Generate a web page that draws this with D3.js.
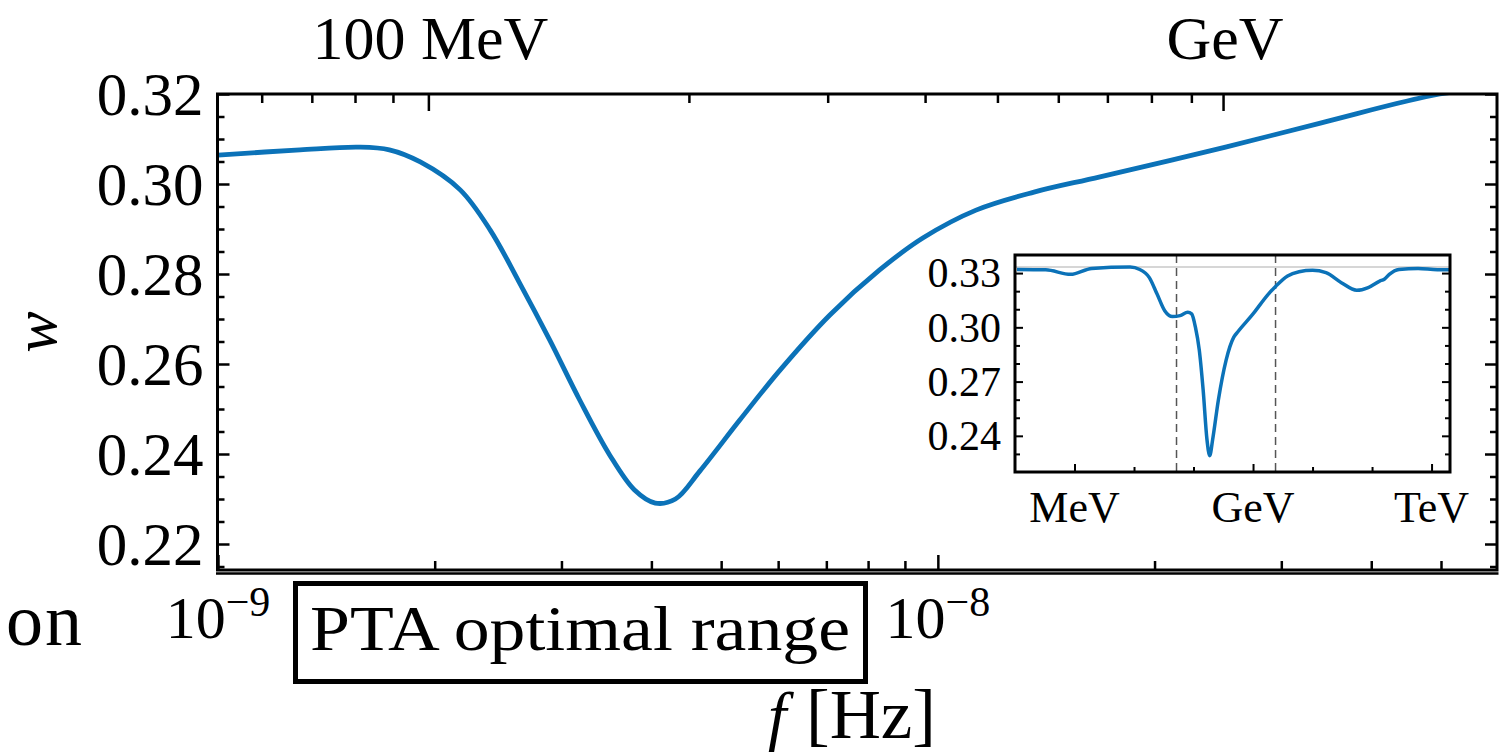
<!DOCTYPE html>
<html>
<head>
<meta charset="utf-8">
<script src="https://cdn.jsdelivr.net/npm/d3@7"></script>
<style>
  html, body { margin: 0; padding: 0; background: #fff; }
  svg { display: block; }
  text { font-family: "Liberation Serif", "DejaVu Serif", serif; fill: #000; }
</style>
</head>
<body>
<svg id="chart" width="1501" height="753"></svg>
<script>
// ---------------- DATA ----------------
// Main panel: equation of state w vs GW frequency f [Hz]
const mainF = [1.00e-9, 1.30e-9, 1.57e-9, 1.73e-9, 1.91e-9, 2.17e-9, 2.39e-9, 2.62e-9, 2.89e-9,
  3.18e-9, 3.50e-9, 3.79e-9, 4.05e-9, 4.32e-9, 4.67e-9, 5.31e-9, 6.04e-9, 7.08e-9, 8.30e-9,
  9.53e-9, 1.13e-8, 1.36e-8, 1.68e-8, 2.51e-8, 3.41e-8, 4.98e-8, 5.97e-8];
const mainW = [0.3064, 0.3076, 0.3082, 0.3076, 0.3049, 0.2987, 0.2897, 0.2782, 0.2653,
  0.2520, 0.2398, 0.2320, 0.2291, 0.2300, 0.2362, 0.2476, 0.2587, 0.2709, 0.2809,
  0.2880, 0.2942, 0.2982, 0.3016, 0.3082, 0.3136, 0.3200, 0.3214];

// Main axes ticks
const yMajorTicks = [0.22, 0.24, 0.26, 0.28, 0.30, 0.32];
const yMinorTicks = [0.215, 0.225, 0.23, 0.235, 0.245, 0.25, 0.255, 0.265, 0.27, 0.275,
  0.285, 0.29, 0.295, 0.305, 0.31, 0.315];
const xMajorTicks = [1e-9, 1e-8];
const xMajorLabels = [{ base: "10", exp: "\u22129" }, { base: "10", exp: "\u22128" }];
const xMinorTicks = [2e-9, 3e-9, 4e-9, 5e-9, 6e-9, 7e-9, 8e-9, 9e-9, 2e-8, 3e-8, 4e-8, 5e-8];
// Top axis: temperature ticks placed at the corresponding frequency
const topMajorF = [1.96e-9, 2.49e-8];
const topMajorLabels = ["100 MeV", "GeV"];
const topMinorF = [1.15e-9, 1.35e-9, 1.55e-9, 1.75e-9, 4.51e-9, 7.03e-9, 9.60e-9,
  1.21e-8, 1.47e-8, 1.72e-8, 1.98e-8, 2.25e-8];

// Inset: w vs temperature T [GeV]
const insetT = [1.08e-4, 3.28e-4, 8.61e-4, 1.95e-3, 8.61e-3, 1.25e-2, 1.81e-2, 2.44e-2, 3.28e-2,
  4.42e-2, 5.94e-2, 8.00e-2, 9.29e-2, 0.1076, 0.125, 0.145, 0.168, 0.187, 0.210, 0.262,
  0.353, 0.475, 0.552, 1.0, 1.81, 2.44, 3.81, 5.94, 10, 16.8, 30.5, 55.2, 86.1, 134.6,
  160.7, 195, 283, 594, 1250, 2010];
const insetW = [0.3320, 0.3318, 0.3293, 0.3326, 0.3333, 0.3320, 0.3275, 0.3184, 0.3092,
  0.3060, 0.3065, 0.3083, 0.3074, 0.3001, 0.2874, 0.2655, 0.2381, 0.2290, 0.2381, 0.2600,
  0.2819, 0.2946, 0.2974, 0.3074, 0.3184, 0.3229, 0.3284, 0.3307, 0.3315, 0.3302,
  0.3247, 0.3205, 0.3220, 0.3256, 0.3266, 0.3293, 0.3320, 0.3326, 0.3318, 0.3318];
const insetYMajor = [0.24, 0.27, 0.30, 0.33];
const insetYMinor = [0.23, 0.25, 0.26, 0.28, 0.29, 0.31, 0.32];
const insetXMajor = [1e-3, 1, 1e3];
const insetXLabels = ["MeV", "GeV", "TeV"];
const insetXMinor = [1e-2, 1e-1, 10, 100];
const insetRef = [1 / 3];            // radiation value
const insetDashed = [0.0518, 2.39];  // main-panel range in T [GeV]

// ---------------- DRAW ----------------
const svg = d3.select("#chart");
const blue = "#0b72b8";

const L = 217.5, R = 1497, T = 94, B = 570;
const x = d3.scaleLog().domain([1e-9, 6e-8]).range([218, 1498]);
const y = d3.scaleLinear().domain([0.214, 0.32]).range([571, 94]);

svg.append("defs").append("clipPath").attr("id", "mainClip")
  .append("rect").attr("x", L).attr("y", T).attr("width", R - L).attr("height", B - T);

// curve
const line = d3.line().x(d => x(d[0])).y(d => y(d[1])).curve(d3.curveCatmullRom.alpha(0.5));
svg.append("path")
  .datum(mainF.map((f, i) => [f, mainW[i]]))
  .attr("clip-path", "url(#mainClip)")
  .attr("d", line).attr("fill", "none").attr("stroke", blue).attr("stroke-width", 4.8);

// frame
svg.append("rect").attr("x", L).attr("y", T).attr("width", R - L).attr("height", B - T)
  .attr("fill", "none").attr("stroke", "#000").attr("stroke-width", 3);
svg.append("line").attr("x1", L - 1.5).attr("x2", R + 1.5).attr("y1", 573.5).attr("y2", 573.5)
  .attr("stroke", "#000").attr("stroke-width", 2.5);

function styleAxis(g) {
  g.select(".domain").remove();
  g.selectAll(".tick line").attr("stroke", "#000").attr("stroke-width", 2.5);
}

// left axis
svg.append("g").attr("transform", `translate(${L},0)`)
  .call(d3.axisLeft(y).tickValues(yMajorTicks).tickSize(-12).tickPadding(14).tickFormat(d3.format(".2f")))
  .call(styleAxis)
  .call(g => g.selectAll("text").attr("font-size", 61).attr("font-family", "Liberation Serif").attr("dy", "0.33em"));
svg.append("g").attr("transform", `translate(${L},0)`)
  .call(d3.axisLeft(y).tickValues(yMinorTicks).tickSize(-7).tickFormat(""))
  .call(styleAxis);
// right axis ticks
svg.append("g").attr("transform", `translate(${R},0)`)
  .call(d3.axisRight(y).tickValues(yMajorTicks).tickSize(-12).tickFormat(""))
  .call(styleAxis);
svg.append("g").attr("transform", `translate(${R},0)`)
  .call(d3.axisRight(y).tickValues(yMinorTicks).tickSize(-7).tickFormat(""))
  .call(styleAxis);

// bottom axis
svg.append("g").attr("transform", `translate(0,${B})`)
  .call(d3.axisBottom(x).tickValues(xMajorTicks).tickSize(-15).tickFormat(""))
  .call(styleAxis);
svg.append("g").attr("transform", `translate(0,${B})`)
  .call(d3.axisBottom(x).tickValues(xMinorTicks).tickSize(-9).tickFormat(""))
  .call(styleAxis);
xMajorTicks.forEach((v, i) => {
  const t = svg.append("text").attr("x", x(v)).attr("y", 638)
    .attr("text-anchor", "middle").attr("font-size", 60);
  t.append("tspan").text(xMajorLabels[i].base);
  t.append("tspan").attr("font-size", 42).attr("dy", -22).text(xMajorLabels[i].exp);
});

// top axis (temperature)
svg.append("g").attr("transform", `translate(0,${T})`)
  .call(d3.axisTop(x).tickValues(topMajorF).tickSize(-17).tickFormat(""))
  .call(styleAxis);
svg.append("g").attr("transform", `translate(0,${T})`)
  .call(d3.axisTop(x).tickValues(topMinorF).tickSize(-9).tickFormat(""))
  .call(styleAxis);
topMajorF.forEach((v, i) => {
  svg.append("text").attr("x", x(v) + 2).attr("y", 59).attr("text-anchor", "middle")
    .attr("font-size", 62).text(topMajorLabels[i]);
});

// axis titles
svg.append("text").attr("transform", "translate(56,332) rotate(-90)")
  .attr("text-anchor", "middle").attr("font-size", 62).attr("font-style", "italic").text("w");
svg.append("text").attr("x", 768).attr("y", 738).attr("font-size", 66)
  .attr("font-style", "italic").text("f");
svg.append("text").attr("x", 806).attr("y", 738).attr("font-size", 70)
  .attr("textLength", 130).attr("lengthAdjust", "spacingAndGlyphs").text("[Hz]");

// text fragment from neighbouring panel
svg.append("text").attr("x", 6).attr("y", 645)
  .attr("font-size", 74).attr("letter-spacing", 2).text("on");

// PTA box
svg.append("rect").attr("x", 295.5).attr("y", 583.5).attr("width", 570).attr("height", 98)
  .attr("fill", "none").attr("stroke", "#000").attr("stroke-width", 5);
svg.append("text").attr("x", 580).attr("y", 650).attr("text-anchor", "middle")
  .attr("font-size", 64).attr("textLength", 540).attr("lengthAdjust", "spacingAndGlyphs")
  .text("PTA optimal range");

// ---------------- INSET ----------------
const iL = 1015, iR = 1450, iT = 255, iB = 472;
const ix = d3.scaleLog().domain([1e-4, Math.pow(10, 3.31)]).range([iL, iR]);
const iy = d3.scaleLinear().domain([0.22, 0.34]).range([iB, iT]);
const ig = svg.append("g");
ig.append("rect").attr("x", iL).attr("y", iT).attr("width", iR - iL).attr("height", iB - iT)
  .attr("fill", "#fff");
ig.append("defs").append("clipPath").attr("id", "insetClip")
  .append("rect").attr("x", iL).attr("y", iT).attr("width", iR - iL).attr("height", iB - iT);
insetRef.forEach(v => {
  ig.append("line").attr("x1", iL).attr("x2", iR).attr("y1", iy(v)).attr("y2", iy(v))
    .attr("stroke", "#c8c8c8").attr("stroke-width", 1.5);
});
insetDashed.forEach(v => {
  ig.append("line").attr("x1", ix(v)).attr("x2", ix(v)).attr("y1", iT).attr("y2", iB)
    .attr("stroke", "#555").attr("stroke-width", 1.5).attr("stroke-dasharray", "8,5");
});
const iline = d3.line().x(d => ix(d[0])).y(d => iy(d[1])).curve(d3.curveMonotoneX);
ig.append("path").datum(insetT.map((t, i) => [t, insetW[i]]))
  .attr("clip-path", "url(#insetClip)")
  .attr("d", iline).attr("fill", "none").attr("stroke", blue).attr("stroke-width", 3.5);
ig.append("rect").attr("x", iL).attr("y", iT).attr("width", iR - iL).attr("height", iB - iT)
  .attr("fill", "none").attr("stroke", "#000").attr("stroke-width", 3);

function styleInset(g) {
  g.select(".domain").remove();
  g.selectAll(".tick line").attr("stroke", "#000").attr("stroke-width", 2);
}
ig.append("g").attr("transform", `translate(${iL},0)`)
  .call(d3.axisLeft(iy).tickValues(insetYMajor).tickSize(-8).tickPadding(14).tickFormat(d3.format(".2f")))
  .call(styleInset)
  .call(g => g.selectAll("text").attr("font-size", 42).attr("font-family", "Liberation Serif").attr("dy", "0.33em"));
ig.append("g").attr("transform", `translate(${iL},0)`)
  .call(d3.axisLeft(iy).tickValues(insetYMinor).tickSize(-5).tickFormat(""))
  .call(styleInset);
ig.append("g").attr("transform", `translate(${iR},0)`)
  .call(d3.axisRight(iy).tickValues(insetYMajor).tickSize(-8).tickFormat(""))
  .call(styleInset);
ig.append("g").attr("transform", `translate(${iR},0)`)
  .call(d3.axisRight(iy).tickValues(insetYMinor).tickSize(-5).tickFormat(""))
  .call(styleInset);
ig.append("g").attr("transform", `translate(0,${iB})`)
  .call(d3.axisBottom(ix).tickValues(insetXMajor).tickSize(-8).tickFormat(""))
  .call(styleInset);
ig.append("g").attr("transform", `translate(0,${iB})`)
  .call(d3.axisBottom(ix).tickValues(insetXMinor).tickSize(-5).tickFormat(""))
  .call(styleInset);
insetXMajor.forEach((v, i) => {
  ig.append("text").attr("x", ix(v)).attr("y", 522).attr("text-anchor", "middle")
    .attr("font-size", 44).text(insetXLabels[i]);
});
</script>
</body>
</html>
